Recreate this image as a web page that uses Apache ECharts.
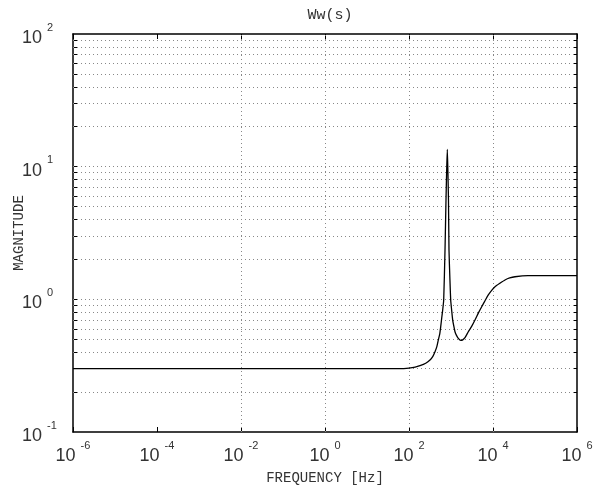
<!DOCTYPE html>
<html>
<head>
<meta charset="utf-8">
<script src="https://cdn.jsdelivr.net/npm/echarts@6/dist/echarts.min.js"></script>
<style>html,body{margin:0;padding:0;background:#fff}#c{width:603px;height:489px}</style>
</head>
<body>
<div id="c"></div>
<script>
// ---- data ----
const freq = [1e-6, 1, 30, 60, 100, 140, 183, 250, 316, 370, 416, 460, 499, 540, 569, 600, 634, 670, 720, 760, 790, 817, 845, 871, 896, 940, 984, 1040, 1097, 1170, 1244, 1350, 1492, 1702, 1900, 2154, 2582, 3100, 3725, 4500, 5380, 6500, 7730, 9300, 11160, 14500, 19300, 25000, 33400, 68100, 1e6];
const mag  = [0.30, 0.30, 0.30, 0.30, 0.303, 0.308, 0.316, 0.33, 0.349, 0.372, 0.403, 0.44, 0.494, 0.55, 0.622, 0.72, 0.831, 0.99, 2.35, 5.6, 9.5, 13.5, 9.0, 5.6, 2.35, 1.45, 0.99, 0.82, 0.698, 0.625, 0.570, 0.535, 0.508, 0.491, 0.495, 0.514, 0.570, 0.625, 0.698, 0.79, 0.879, 0.98, 1.08, 1.17, 1.245, 1.32, 1.40, 1.45, 1.48, 1.507, 1.51];
const xTickValues = [1e-6, 1e-4, 1e-2, 1, 1e2, 1e4, 1e6];
const xGridValues = [1e-4, 1e-2, 1, 1e2, 1e4];
const yLabelValues = [0.1, 1, 10, 100];
const yGridValues = [0.2,0.3,0.4,0.5,0.6,0.7,0.8,0.9,1,2,3,4,5,6,7,8,9,10,20,30,40,50,60,70,80,90];
const titleText = 'Ww(s)';
const xName = 'FREQUENCY [Hz]';
const yName = 'MAGNITUDE';

const chart = echarts.init(document.getElementById('c'), null, {renderer: 'canvas'});
const mono = 'Liberation Mono';
const sans = 'Liberation Sans';
function pow10Label(v) {
  const e = Math.round(Math.log10(v));
  return '{b|10}{e|' + e + '}';
}
const rich = {
  b: {fontFamily: sans, fontSize: 18, color: '#333', lineHeight: 32, verticalAlign: 'middle'},
  e: {fontFamily: sans, fontSize: 11, color: '#333', lineHeight: 32, verticalAlign: 'top', padding: [0, 0, 0, 5]}
};
const boxLine = {show: true, onZero: false, lineStyle: {color: '#000', width: 1.5}};
const gridStyle = {color: '#888', width: 1, type: [1, 3]};

const lineData = freq.map((f, i) => [f, mag[i]]);
const markData = xGridValues.map(v => ({xAxis: v})).concat(yGridValues.map(v => ({yAxis: v})));

chart.setOption({
  animation: false,
  backgroundColor: '#fff',
  title: {
    text: titleText, left: 325, top: 3, textAlign: 'center',
    textStyle: {fontFamily: mono, fontSize: 15, fontWeight: 'normal', color: '#333'}
  },
  grid: {left: 73, top: 34, right: 26, bottom: 57, containLabel: false, outerBoundsMode: 'none'},
  xAxis: [{
    type: 'log', logBase: 10, min: 1e-6, max: 1e6, position: 'bottom',
    axisLine: boxLine,
    axisTick: {show: true, inside: true, length: 5, customValues: xTickValues, lineStyle: {color: '#000'}},
    axisLabel: {show: true, customValues: xTickValues, formatter: pow10Label, rich: rich, margin: 8},
    splitLine: {show: false}, minorTick: {show: false},
    name: xName, nameLocation: 'middle', nameGap: 39, nameMoveOverlap: false,
    nameTextStyle: {fontFamily: mono, fontSize: 14, color: '#333'}
  }, {
    type: 'log', logBase: 10, min: 1e-6, max: 1e6, position: 'top',
    axisLine: boxLine,
    axisTick: {show: true, inside: true, length: 5, customValues: xTickValues, lineStyle: {color: '#000'}},
    axisLabel: {show: false}, splitLine: {show: false}
  }],
  yAxis: [{
    type: 'log', logBase: 10, min: 0.1, max: 100, position: 'left',
    axisLine: boxLine,
    axisTick: {show: true, inside: true, length: 4, customValues: yGridValues, lineStyle: {color: '#000'}},
    axisLabel: {show: true, customValues: yLabelValues, formatter: pow10Label, rich: rich, align: 'left', margin: 51, padding: [8, 0, 0, 0]},
    splitLine: {show: false},
    name: yName, nameLocation: 'middle', nameGap: 47, nameMoveOverlap: false,
    nameTextStyle: {fontFamily: mono, fontSize: 14, color: '#333'}
  }, {
    type: 'log', logBase: 10, min: 0.1, max: 100, position: 'right',
    axisLine: boxLine,
    axisTick: {show: true, inside: true, length: 4, customValues: yGridValues, lineStyle: {color: '#000'}},
    axisLabel: {show: false}, splitLine: {show: false}
  }],
  series: [{
    type: 'line', xAxisIndex: 0, yAxisIndex: 0,
    data: lineData, showSymbol: false, symbol: 'none', smooth: 0.2,
    lineStyle: {color: '#000', width: 1.3}, z: 5,
    markLine: {
      silent: true, symbol: ['none', 'none'], label: {show: false},
      lineStyle: gridStyle, emphasis: {disabled: true}, animation: false,
      data: markData
    }
  }]
});
</script>
</body>
</html>
